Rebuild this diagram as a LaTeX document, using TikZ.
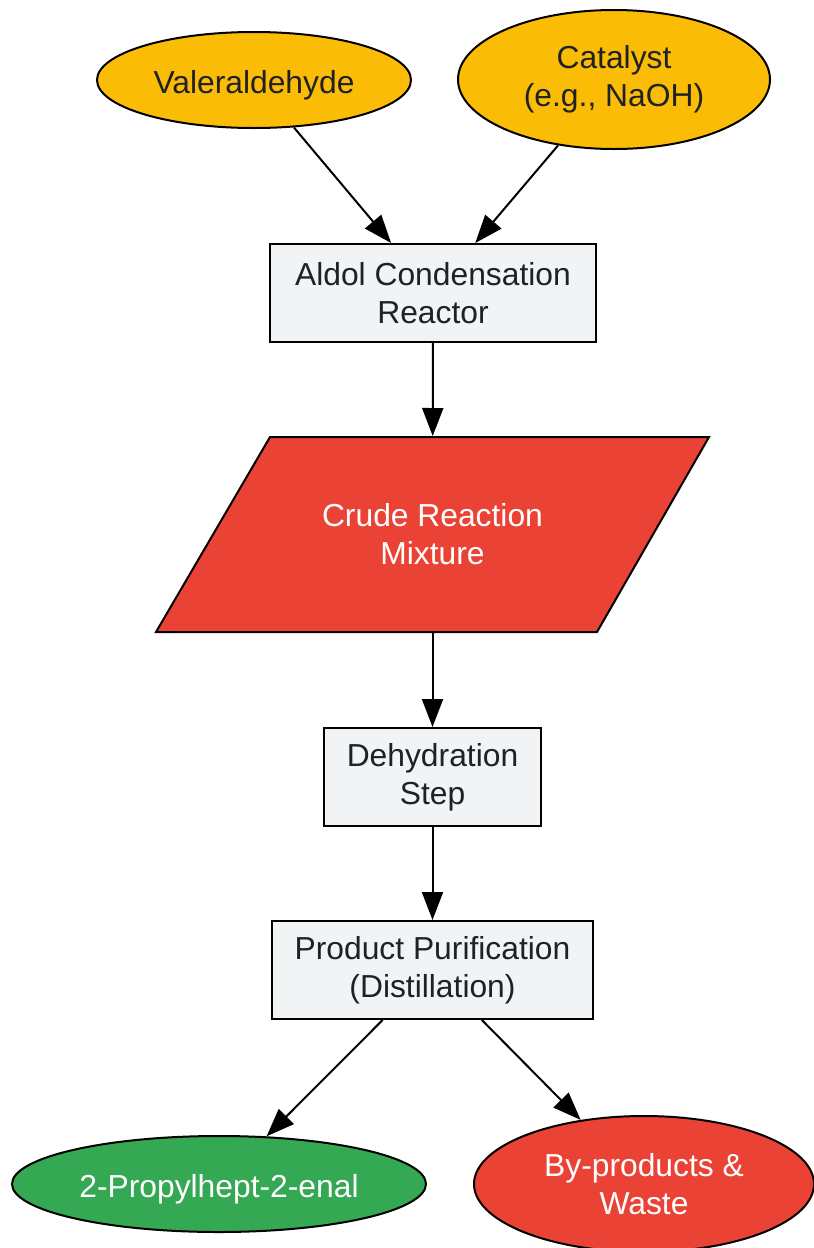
\documentclass[tikz,border=0pt]{standalone}
\usepackage{fontspec}
\setmainfont{Liberation Sans}
\usetikzlibrary{shapes.geometric,arrows.meta}
\definecolor{gyellow}{HTML}{FBBC05}
\definecolor{gred}{HTML}{EA4335}
\definecolor{ggreen}{HTML}{34A853}
\definecolor{ggrey}{HTML}{F1F3F4}
\definecolor{gtext}{HTML}{202124}
\tikzset{
  base/.style={draw=black, line width=2pt, align=center, inner sep=0pt,
    execute at begin node={\rule{0pt}{33pt}},
    font=\fontsize{31.8}{38}\selectfont},
  oval/.style={base, ellipse},
  procbox/.style={base, rectangle, fill=ggrey, text=gtext},
  conn/.style={line width=2pt, -{Triangle[length=28pt,width=21pt]}},
}
\begin{document}
\begin{tikzpicture}[x=1pt,y=-1pt]
\useasboundingbox (0,0) rectangle (814,1248);
\node[oval, fill=gyellow, text=gtext, minimum width=314pt, minimum height=96pt] (val) at (254,80) {Valeraldehyde};
\node[oval, fill=gyellow, text=gtext, minimum width=312pt, minimum height=139pt] (cat) at (614,79.5) {Catalyst\\(e.g., NaOH)};
\node[procbox, minimum width=326pt, minimum height=98pt] (aldol) at (433,293) {Aldol Condensation\\Reactor};
\draw[line width=2pt, fill=gred] (270,437) -- (709,437) -- (597,632) -- (156,632) -- cycle;
\node[base, draw=none, text=white, minimum width=300pt, minimum height=195pt] (crude) at (432.5,534.5) {Crude Reaction\\Mixture};
\node[procbox, minimum width=217pt, minimum height=98pt] (dehyd) at (432.5,777) {Dehydration\\Step};
\node[procbox, minimum width=321pt, minimum height=98pt] (purif) at (432.5,970) {Product Purification\\(Distillation)};
\node[oval, fill=ggreen, text=white, minimum width=414pt, minimum height=96pt] (prod) at (219,1184) {2-Propylhept-2-enal};
\node[oval, fill=gred, text=white, minimum width=340pt, minimum height=136pt] (waste) at (644,1184) {By-products \&\\Waste};
\draw[conn] (val) -- (aldol);
\draw[conn] (cat) -- (aldol);
\draw[conn] (aldol) -- (crude);
\draw[conn] (crude) -- (dehyd);
\draw[conn] (dehyd) -- (purif);
\draw[conn] (purif) -- (prod);
\draw[conn] (purif) -- (waste);
\end{tikzpicture}
\end{document}
